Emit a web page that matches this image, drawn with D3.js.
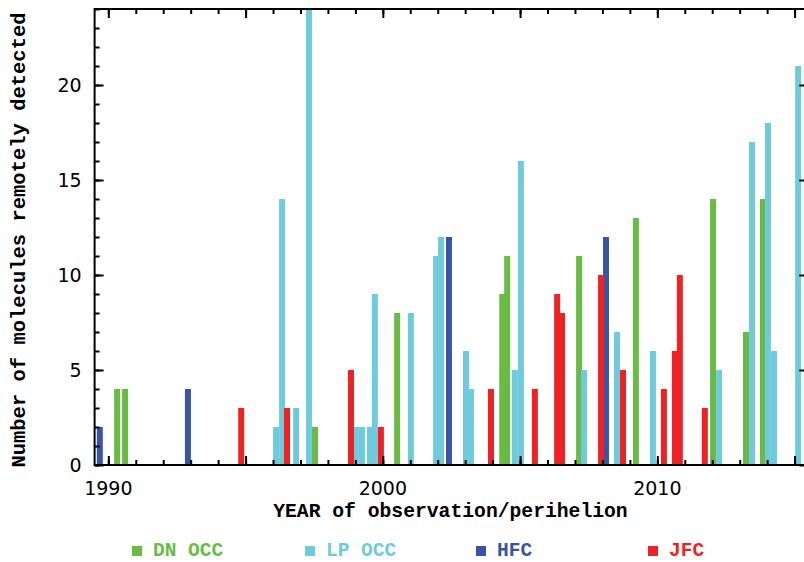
<!DOCTYPE html>
<html>
<head>
<meta charset="utf-8">
<script src="https://cdn.jsdelivr.net/npm/d3@7"></script>
<style>
  body { margin: 0; background: #fff; }
  svg { display: block; }
  .mono { font-family: "Liberation Mono", monospace; font-weight: bold; }
  .num { font-family: "DejaVu Sans", sans-serif; }
</style>
</head>
<body>
<script>
// bar centres (year) and counts
var dnYears = [1990.32, 1990.61, 1997.53, 2000.52, 2004.35, 2004.53, 2007.15, 2009.22, 2012.03, 2013.23, 2013.85];
var dnCounts = [4, 4, 2, 8, 9, 11, 11, 13, 14, 7, 14];

var lpYears = [1996.11, 1996.33, 1996.84, 1997.31, 1999.02, 1999.24, 1999.53, 1999.71, 2001.02, 2001.94, 2002.12,
    2003.03, 2003.21, 2004.81, 2005.03, 2007.33, 2008.53, 2009.84, 2012.25, 2013.45, 2014.03, 2014.25, 2015.13];
var lpCounts = [2, 14, 3, 24, 2, 2, 2, 9, 8, 11, 12, 6, 4, 5, 16, 5, 7, 6, 5, 17, 18, 6, 21];

var hfcYears = [1989.69, 1992.90, 2002.41, 2008.13];
var hfcCounts = [2, 4, 12, 12];

var jfcYears = [1994.84, 1996.51, 1998.84, 1999.93, 2003.94, 2005.54, 2006.35, 2006.53, 2007.95, 2008.75,
    2010.24, 2010.64, 2010.82, 2011.73];
var jfcCounts = [3, 3, 5, 2, 4, 4, 9, 8, 10, 5, 4, 6, 10, 3];

var seriesNames = ["DN OCC", "LP OCC", "HFC", "JFC"];
var seriesColors = ["#6abb45", "#6fcbdc", "#3854a5", "#ed2224"];

var width = 804, height = 562;
var plotLeft = 94.6, plotRight = 808.3, plotTop = 9, plotBottom = 465;
var barWidth = 0.218; // in years

var svg = d3.select('body').append('svg')
    .attr('width', width)
    .attr('height', height);

var x = d3.scaleLinear().domain([1989.5, 2015.5]).range([plotLeft, plotRight]);
var y = d3.scaleLinear().domain([0, 24]).range([plotBottom, plotTop]);

svg.append('clipPath').attr('id', 'plotclip')
    .append('rect')
    .attr('x', plotLeft).attr('y', plotTop)
    .attr('width', plotRight - plotLeft).attr('height', plotBottom - plotTop);

function draw_bars(years, counts, color) {
    var rows = years.map(function (d, i) { return {year: d, count: counts[i]}; });
    svg.append('g')
        .attr('clip-path', 'url(#plotclip)')
        .selectAll('rect')
        .data(rows)
        .enter()
        .append('rect')
        .attr('x', function (d) { return x(d.year - barWidth / 2) })
        .attr('width', function (d) { return x(d.year + barWidth / 2) - x(d.year - barWidth / 2) })
        .attr('y', function (d) { return y(d.count) })
        .attr('height', function (d) { return y(0) - y(d.count) })
        .style('fill', color);
}

draw_bars(dnYears, dnCounts, seriesColors[0]);
draw_bars(lpYears, lpCounts, seriesColors[1]);
draw_bars(hfcYears, hfcCounts, seriesColors[2]);
draw_bars(jfcYears, jfcCounts, seriesColors[3]);

// axes: ticks pointing inwards, minor every unit, major every 5
function ticks_in(g) {
    g.select('.domain').remove();
    g.selectAll('line').attr('stroke', '#000').attr('stroke-width', 2);
}

var yMinor = d3.range(0, 25, 1), yMajor = [0, 5, 10, 15, 20];
var xMinor = d3.range(1990, 2016, 1), xMajor = [1990, 1995, 2000, 2005, 2010, 2015];

svg.append('g').attr('transform', 'translate(' + plotLeft + ',0)')
    .call(d3.axisRight(y).tickValues(yMinor).tickSize(5).tickFormat(''))
    .call(ticks_in);
svg.append('g').attr('transform', 'translate(' + plotLeft + ',0)')
    .call(d3.axisRight(y).tickValues(yMajor).tickSize(9).tickFormat(''))
    .call(ticks_in);
svg.append('g').attr('transform', 'translate(' + plotRight + ',0)')
    .call(d3.axisLeft(y).tickValues(yMajor).tickSize(9).tickFormat(''))
    .call(ticks_in);

svg.append('g').attr('transform', 'translate(0,' + plotBottom + ')')
    .call(d3.axisTop(x).tickValues(xMinor).tickSize(5).tickFormat(''))
    .call(ticks_in);
svg.append('g').attr('transform', 'translate(0,' + plotBottom + ')')
    .call(d3.axisTop(x).tickValues(xMajor).tickSize(9).tickFormat(''))
    .call(ticks_in);
svg.append('g').attr('transform', 'translate(0,' + plotTop + ')')
    .call(d3.axisBottom(x).tickValues(xMinor).tickSize(5).tickFormat(''))
    .call(ticks_in);
svg.append('g').attr('transform', 'translate(0,' + plotTop + ')')
    .call(d3.axisBottom(x).tickValues(xMajor).tickSize(9).tickFormat(''))
    .call(ticks_in);

// frame
svg.append('rect')
    .attr('x', plotLeft).attr('y', plotTop)
    .attr('width', plotRight - plotLeft).attr('height', plotBottom - plotTop)
    .attr('fill', 'none').attr('stroke', '#000').attr('stroke-width', 2);

// tick labels
svg.append('g').selectAll('text')
    .data(yMajor)
    .enter().append('text')
    .attr('class', 'num')
    .attr('x', plotLeft - 13)
    .attr('y', function (d) { return y(d) + 7 })
    .attr('text-anchor', 'end')
    .style('font-size', '19px')
    .text(function (d) { return d });

svg.append('g').selectAll('text')
    .data([1990, 2000, 2010])
    .enter().append('text')
    .attr('class', 'num')
    .attr('x', function (d) { return x(d) })
    .attr('y', 495)
    .attr('text-anchor', 'middle')
    .style('font-size', '19px')
    .text(function (d) { return d });

// axis titles
svg.append('text')
    .attr('class', 'mono')
    .attr('x', (plotLeft + plotRight) / 2 - 1)
    .attr('y', 517)
    .attr('text-anchor', 'middle')
    .style('font-size', '19.7px')
    .text('YEAR of observation/perihelion');

svg.append('text')
    .attr('class', 'mono')
    .attr('transform', 'translate(25,240) rotate(-90)')
    .attr('text-anchor', 'middle')
    .style('font-size', '20.5px')
    .text('Number of molecules remotely detected');

// legend
var legendX = [132, 305, 476, 648];
var lg = svg.append('g').selectAll('g')
    .data(seriesNames)
    .enter().append('g')
    .attr('transform', function (d, i) { return 'translate(' + legendX[i] + ',546)' });
lg.append('rect')
    .attr('width', 10).attr('height', 10)
    .style('fill', function (d, i) { return seriesColors[i] });
lg.append('text')
    .attr('class', 'mono')
    .attr('x', 21).attr('y', 10)
    .style('font-size', '19.5px')
    .style('fill', function (d, i) { return seriesColors[i] })
    .text(function (d) { return d });
</script>
</body>
</html>
